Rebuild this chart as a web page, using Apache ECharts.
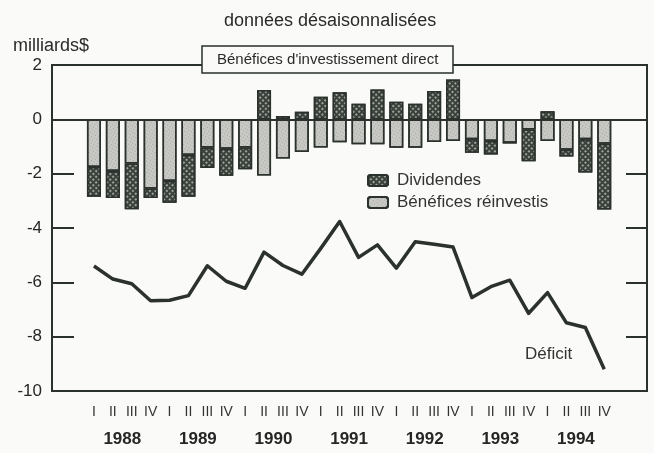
<!DOCTYPE html>
<html>
<head>
<meta charset="utf-8">
<title>Bénéfices d'investissement direct</title>
<script src="https://cdn.jsdelivr.net/npm/echarts@6/dist/echarts.min.js"></script>
<style>
  html, body { margin: 0; padding: 0; background: #fafaf8; }
  #chart { width: 654px; height: 453px; }
</style>
</head>
<body>
<div id="chart"></div>
<script>
// donnees trimestrielles 1988-1994, milliards $
var years = ['1988', '1989', '1990', '1991', '1992', '1993', '1994'];
var quarterNames = ['I', 'II', 'III', 'IV'];
var dividends = [-1.1, -1.0, -1.68, -0.35, -0.8, -1.54, -0.75, -1.0, -0.8, 1.08, 0.12, 0.28, 0.83, 1.0,
                 0.57, 1.1, 0.65, 0.57, 1.04, 1.47, -0.5, -0.49, 0, -1.17, 0.3, -0.25, -1.23, -2.42];
var reinvested = [-1.75, -1.9, -1.63, -2.55, -2.27, -1.31, -1.04, -1.08, -1.04, -2.07, -1.44, -1.2, -1.04, -0.84,
                  -0.92, -0.92, -1.05, -1.05, -0.83, -0.8, -0.73, -0.8, -0.86, -0.37, -0.8, -1.12, -0.73, -0.9];
var deficit = [-5.4, -5.88, -6.05, -6.68, -6.66, -6.49, -5.39, -5.96, -6.22, -4.89, -5.38, -5.7, -4.75, -3.76,
               -5.08, -4.62, -5.48, -4.51, -4.6, -4.7, -6.56, -6.16, -5.92, -7.14, -6.38, -7.49, -7.66, -9.2];
var yTicks = { min: -10, max: 2, step: 2 };

var categories = [];
years.forEach(function (y) {
  quarterNames.forEach(function (q) { categories.push(y + ' ' + q); });
});

var ink = '#2b312c';
var font = 'Liberation Sans, Arial, sans-serif';

var chart = echarts.init(document.getElementById('chart'));
chart.setOption({
  backgroundColor: '#fafaf8',
  animation: false,
  aria: { enabled: true, decal: { show: true } },
  textStyle: { fontFamily: font },
  title: [
    { text: 'données désaisonnalisées', left: 224, top: 12, padding: 0,
      textStyle: { fontSize: 18, fontWeight: 'normal', color: '#2a2a2a', fontFamily: font } },
    { text: 'milliards$', left: 13, top: 37, padding: 0,
      textStyle: { fontSize: 18, fontWeight: 'normal', color: '#2a2a2a', fontFamily: font } },
    { text: "Bénéfices d'investissement direct", left: 202, top: 46, padding: [6, 15, 6, 15],
      borderColor: ink, borderWidth: 1.5, backgroundColor: '#fafaf8',
      textStyle: { fontSize: 15, fontWeight: 'normal', color: '#2a2a2a', fontFamily: font } }
  ],
  legend: {
    orient: 'vertical', left: 362, top: 167, itemWidth: 20, itemHeight: 11, itemGap: 5,
    data: ['Dividendes', 'Bénéfices réinvestis'],
    textStyle: { fontSize: 17, color: '#333', fontFamily: font, padding: [0, 0, 0, 4] }
  },
  grid: [
    { left: 52, right: 7, top: 65, bottom: 62, show: true, borderColor: ink, borderWidth: 2,
      backgroundColor: 'transparent' },
    { left: 84.5, right: 40.3, top: 65, bottom: 62 }
  ],
  xAxis: [
    { type: 'value', gridIndex: 0, min: 0, max: 1, z: 10,
      axisLine: { show: true, onZero: true, lineStyle: { color: ink, width: 2 } },
      axisTick: { show: false }, axisLabel: { show: false }, splitLine: { show: false } },
    { type: 'category', gridIndex: 1, position: 'bottom', data: categories,
      axisLine: { show: false }, axisTick: { show: false },
      axisLabel: { interval: 0, fontSize: 14, color: '#333', margin: 14,
        formatter: function (v) { return v.split(' ')[1]; } } },
    { type: 'category', gridIndex: 1, position: 'bottom', data: years,
      axisLine: { show: false }, axisTick: { show: false },
      axisLabel: { fontSize: 17, fontWeight: 'bold', color: '#262626', margin: 40 } }
  ],
  yAxis: [
    { type: 'value', gridIndex: 0, min: yTicks.min, max: yTicks.max, interval: yTicks.step,
      axisLine: { show: false }, splitLine: { show: false },
      axisTick: { show: true, inside: true, length: 22, lineStyle: { color: ink, width: 2 } },
      axisLabel: { fontSize: 17, color: '#262626', margin: 10 } },
    { type: 'value', gridIndex: 0, position: 'right', min: yTicks.min, max: yTicks.max, interval: yTicks.step,
      axisLine: { show: false }, splitLine: { show: false }, axisLabel: { show: false },
      axisTick: { show: true, inside: true, length: 21, lineStyle: { color: ink, width: 2 } } },
    { type: 'value', gridIndex: 1, min: yTicks.min, max: yTicks.max, show: false }
  ],
  series: [
    {
      name: 'Bénéfices réinvestis', type: 'bar', xAxisIndex: 1, yAxisIndex: 2, stack: 'ide',
      barWidth: 14, data: reinvested,
      itemStyle: {
        color: '#c8c9c4', borderColor: ink, borderWidth: 1.5,
        decal: { symbol: 'circle', symbolSize: 1, color: 'rgba(40,45,40,0.3)',
                 dashArrayX: [1, 2], dashArrayY: [1, 2] }
      }
    },
    {
      name: 'Dividendes', type: 'bar', xAxisIndex: 1, yAxisIndex: 2, stack: 'ide',
      barWidth: 14, data: dividends,
      itemStyle: {
        color: '#3a413b', borderColor: ink, borderWidth: 1.5,
        decal: { symbol: 'circle', symbolSize: 1, color: 'rgba(235,235,230,0.75)',
                 dashArrayX: [2, 2], dashArrayY: [2, 2], rotation: Math.PI / 4 }
      }
    },
    {
      name: 'Déficit', type: 'line', xAxisIndex: 1, yAxisIndex: 2, data: deficit,
      symbol: 'none', z: 5,
      lineStyle: { color: ink, width: 3.5, join: 'round' }
    }
  ],
  graphic: [
    { type: 'text', left: 525, top: 346,
      style: { text: 'Déficit', font: '17px ' + font, fill: '#333' } }
  ]
});
</script>
</body>
</html>
